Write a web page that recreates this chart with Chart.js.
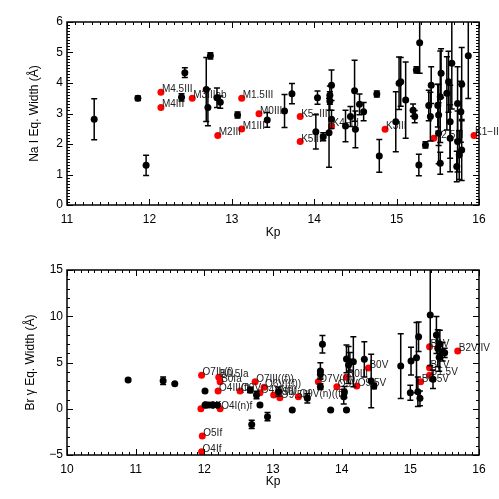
<!DOCTYPE html>
<html><head><meta charset="utf-8">
<script src="https://cdn.jsdelivr.net/npm/chart.js@4"></script>
<style>
html,body{margin:0;padding:0;background:#fff;width:499px;height:499px;overflow:hidden}
#w1{position:absolute;left:0;top:0;width:499px;height:245px}
#w2{position:absolute;left:0;top:245px;width:499px;height:254px}
canvas{display:block}
</style></head><body>
<div id="w1"><canvas id="c1" width="499" height="245"></canvas></div>
<div id="w2"><canvas id="c2" width="499" height="254"></canvas></div>
<script>
// ---------- Top panel: Na I ----------
const naKp  = [11.33,11.86,11.96,12.43,12.39,12.69,12.71,12.74,12.82,12.86,13.07,13.43,13.64,13.73,14.04,14.02,14.11,14.18,14.21,14.19,14.19,14.21,14.38,14.44,14.49,14.50,14.55,14.60,14.76,14.79,14.99,15.03,15.05,15.11,15.20,15.22,15.24,15.28,15.27,15.35,15.39,15.41,15.42,15.50,15.51,15.51,15.53,15.53,15.54,15.61,15.63,15.67,15.65,15.65,15.73,15.74,15.74,15.76,15.78,15.79,15.79,15.87];
const naEW  = [2.81,3.50,1.30,4.34,3.53,3.79,3.20,4.89,3.52,3.37,2.95,2.79,3.08,3.65,3.52,2.40,2.24,2.37,3.93,3.60,3.41,2.81,2.59,2.90,3.75,2.48,3.30,3.06,3.64,1.61,2.73,3.99,4.04,3.44,3.11,2.90,4.43,5.32,1.31,1.97,3.26,2.90,3.93,3.26,2.95,2.35,1.37,3.55,4.32,3.66,4.04,4.65,2.73,2.19,1.26,3.33,2.08,1.64,3.06,3.96,1.80,4.89];
const naErr = [0.67,0.07,0.33,0.16,0.12,1.05,0.60,0.10,0.32,0.20,0.10,0.24,0.54,0.33,0.22,0.56,0.13,1.13,0.50,0.30,0.30,0.30,0.52,0.33,1.00,0.60,0.34,0.30,0.10,0.54,0.98,0.86,0.80,1.25,0.20,0.20,0.10,1.00,0.35,0.10,0.50,0.80,0.60,0.70,1.00,1.00,0.36,1.50,0.80,1.20,1.00,1.50,1.20,1.10,0.50,1.20,1.00,0.80,1.00,1.20,1.00,1.40];
const naRedKp  = [12.14,12.14,12.52,12.83,13.12,13.12,13.33,13.83,13.83,14.21,14.86,15.45,15.94];
const naRedEW  = [3.70,3.20,3.50,2.28,3.50,2.49,2.99,2.90,2.08,2.59,2.48,2.19,2.28];
const naRedLbl = ["M4.5III","M4III","M3IIIab","M2III","M1.5III","M1III","M0III","K5\u2212III","K5III","K4\u2212III","K3III","K2.5III","K1\u2212II"];
const naXTicks = [11,12,13,14,15,16];
const naYTicks = [0,1,2,3,4,5,6];

// ---------- Bottom panel: Br gamma ----------
const brKp  = [10.89,11.40,11.57,12.01,12.01,12.07,12.13,12.19,12.67,12.76,12.81,12.69,12.92,13.08,13.28,13.50,13.69,13.69,13.69,13.72,13.84,14.03,14.04,14.07,14.07,14.10,14.12,14.17,14.33,14.43,14.47,14.86,15.01,15.00,15.09,15.12,15.11,15.14,15.29,15.33,15.38,15.40,15.42,15.43,15.47,15.50];
const brEW  = [3.11,3.03,2.71,1.92,0.41,0.41,0.41,0.41,2.03,1.49,0.41,-1.69,-0.86,1.84,-0.14,1.13,2.39,3.73,4.08,6.97,-0.14,1.31,1.80,-0.14,5.38,4.73,5.09,5.09,5.34,3.00,2.46,4.62,5.16,1.73,5.52,7.79,1.84,1.13,10.14,3.19,7.97,6.54,5.56,7.00,6.17,6.05];
const brErr = [0.15,0.40,0.10,0.10,0.10,0.10,0.10,0.10,0.30,0.40,0.15,0.45,0.45,0.50,0.10,0.50,0.30,0.40,0.90,0.95,0.10,0.80,0.60,0.10,1.50,2.00,1.00,2.70,1.90,2.90,0.30,3.50,1.50,0.80,3.80,1.60,1.60,0.80,5.50,1.00,2.00,2.00,1.50,1.50,1.00,0.50];
const brRedKp  = [11.96,12.21,12.23,12.20,11.95,12.23,11.97,11.96,12.52,12.74,12.81,12.87,13.01,13.10,13.37,13.66,13.93,14.07,14.22,14.39,15.15,15.28,15.28,15.28,15.69];
const brRedEW  = [3.62,3.40,2.92,1.92,0.00,0.00,-2.95,-4.64,1.92,2.92,1.73,2.32,1.49,1.20,1.31,2.92,2.39,3.40,2.46,4.40,2.92,6.71,4.44,3.62,6.24];
const brRedLbl = ["O7Ib(f)","B0.5Ia","B0Ia","O4III(f)","O6If","O4I(n)f","O5If","O4If","O9V","O7III((f))","O4V((f))","O6V((f))","O9III","O9.5III","O9V(n)((f))","O7V((f))","O9V","B0III","O9.5V","B0V","B0.5V","B1V","B1V","B1.5V","B2V/IV"];
const brXTicks = [10,11,12,13,14,15,16];
const brYTicks = [-5,0,5,10,15];

const FONT = '"Liberation Sans", Arial, Helvetica, sans-serif';

function pts(xs, ys){ return xs.map((x,i)=>({x:x, y:ys[i]})); }

const errorBars = {
  id:'errorBars',
  beforeDatasetDraw(chart, args, opts){
    if (args.index !== 0) return;
    const {ctx, chartArea:a, scales:{x,y}} = chart;
    const err = opts.err, xs = opts.xs, ys = opts.ys;
    ctx.save();
    ctx.beginPath(); ctx.rect(a.left, a.top, a.right-a.left, a.bottom-a.top); ctx.clip();
    ctx.strokeStyle = '#000'; ctx.lineWidth = 1.5;
    for (let i=0;i<xs.length;i++){
      const px = x.getPixelForValue(xs[i]);
      const y1 = y.getPixelForValue(ys[i]+err[i]);
      const y2 = y.getPixelForValue(ys[i]-err[i]);
      ctx.beginPath();
      ctx.moveTo(px,y1); ctx.lineTo(px,y2);
      ctx.moveTo(px-3,y1); ctx.lineTo(px+3,y1);
      ctx.moveTo(px-3,y2); ctx.lineTo(px+3,y2);
      ctx.stroke();
    }
    ctx.restore();
  }
};

const pointLabels = {
  id:'pointLabels',
  afterDatasetDraw(chart, args, opts){
    if (args.index !== 1) return;
    const ctx = chart.ctx;
    ctx.save();
    ctx.font = '10px ' + FONT;
    ctx.fillStyle = '#222';
    ctx.textBaseline = 'alphabetic';
    ctx.textAlign = 'left';
    args.meta.data.forEach((el,i)=>{
      ctx.fillText(opts.labels[i], el.x + 1, el.y);
    });
    ctx.restore();
  }
};

const frame = {
  id:'frame',
  afterDraw(chart, args, opts){
    const {ctx, chartArea:a, scales:{x,y}} = chart;
    ctx.save();
    ctx.strokeStyle = '#000';
    ctx.lineWidth = 1;
    const MAJ = 6, MIN = 3;
    // x ticks
    let n = Math.round((x.max-x.min)/opts.xMinor);
    for (let i=0;i<=n;i++){
      const v = x.min + i*opts.xMinor;
      const len = (i % opts.xPer === 0) ? MAJ : MIN;
      const px = Math.round(x.getPixelForValue(v))+0.5;
      ctx.beginPath();
      ctx.moveTo(px,a.bottom); ctx.lineTo(px,a.bottom-len);
      ctx.moveTo(px,a.top); ctx.lineTo(px,a.top+len);
      ctx.stroke();
    }
    n = Math.round((y.max-y.min)/opts.yMinor);
    for (let i=0;i<=n;i++){
      const v = y.min + i*opts.yMinor;
      const len = (i % opts.yPer === 0) ? MAJ : MIN;
      const py = Math.round(y.getPixelForValue(v))+0.5;
      ctx.beginPath();
      ctx.moveTo(a.left,py); ctx.lineTo(a.left+len,py);
      ctx.moveTo(a.right,py); ctx.lineTo(a.right-len,py);
      ctx.stroke();
    }
    ctx.lineWidth = 1.5;
    ctx.strokeRect(a.left, a.top, a.right-a.left, a.bottom-a.top);
    ctx.restore();
  }
};

function minusFmt(v){ return v < 0 ? '\u2212' + Math.abs(v) : String(v); }

function makeChart(id, cfg){
  return new Chart(document.getElementById(id), {
    type:'scatter',
    data:{ datasets:[
      { data: pts(cfg.kp, cfg.ew), backgroundColor:'#000', borderWidth:0, pointRadius:3.5, pointHoverRadius:3.5 },
      { data: pts(cfg.rkp, cfg.rew), backgroundColor:'#ff0000', borderWidth:0, pointRadius:3.5, pointHoverRadius:3.5 }
    ]},
    options:{
      responsive:false, animation:false, events:[],
      layout:{ padding:{ left:0, right:20, top:cfg.padTop, bottom:0 } },
      plugins:{ legend:{display:false}, tooltip:{enabled:false},
        errorBars:{ xs:cfg.kp, ys:cfg.ew, err:cfg.err },
        pointLabels:{ labels:cfg.lbl },
        frame:{ xMinor:0.1, xPer:10, yMinor:cfg.yMinor, yPer:cfg.yPer }
      },
      scales:{
        x:{ type:'linear', min:cfg.xTicks[0], max:cfg.xTicks[cfg.xTicks.length-1],
          afterBuildTicks: s => { s.ticks = cfg.xTicks.map(v=>({value:v})); },
          afterFit: s => { s.height = cfg.xH; },
          grid:{display:false, drawTicks:false}, border:{display:false},
          ticks:{ color:'#000', font:{family:FONT, size:12}, padding:7, maxRotation:0, callback:minusFmt },
          title:{ display:true, text:'Kp', color:'#000', font:{family:FONT, size:12}, padding:{top:0,bottom:cfg.xTitlePad} }
        },
        y:{ type:'linear', min:cfg.yTicks[0], max:cfg.yTicks[cfg.yTicks.length-1],
          afterBuildTicks: s => { s.ticks = cfg.yTicks.map(v=>({value:v})); },
          afterFit: s => { s.width = 67; },
          grid:{display:false, drawTicks:false}, border:{display:false},
          ticks:{ color:'#000', font:{family:FONT, size:12}, padding:4, callback:minusFmt },
          title:{ display:true, text:cfg.yTitle, color:'#000', font:{family:FONT, size:12}, padding:{top:cfg.yTitlePad,bottom:0} }
        }
      }
    },
    plugins:[errorBars, pointLabels, frame]
  });
}

makeChart('c1', { kp:naKp, ew:naEW, err:naErr, rkp:naRedKp, rew:naRedEW, lbl:naRedLbl,
  xTicks:naXTicks, yTicks:naYTicks, yMinor:0.1, yPer:10, padTop:22, xH:40, xTitlePad:5,
  yTitle:'Na I Eq. Width (\u00C5)', yTitlePad:27 });
makeChart('c2', { kp:brKp, ew:brEW, err:brErr, rkp:brRedKp, rew:brRedEW, lbl:brRedLbl,
  xTicks:brXTicks, yTicks:brYTicks, yMinor:1, yPer:5, padTop:25, xH:44, xTitlePad:10,
  yTitle:'Br \u03B3 Eq. Width (\u00C5)', yTitlePad:23 });
</script>
</body></html>
